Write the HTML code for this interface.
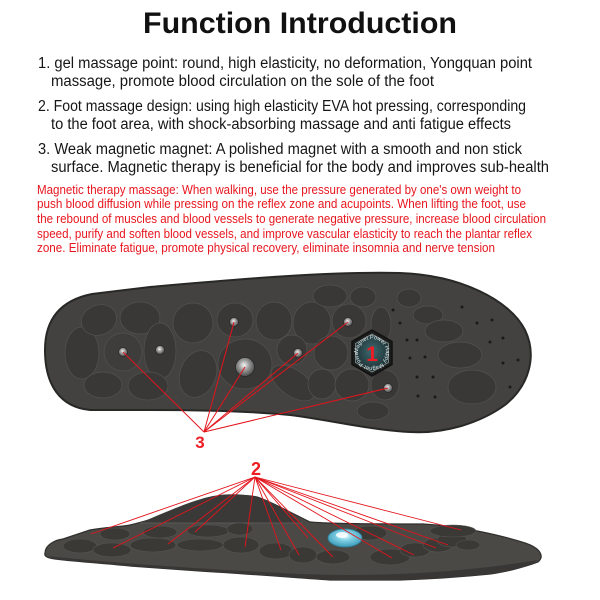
<!DOCTYPE html>
<html>
<head>
<meta charset="utf-8">
<style>
  html,body{margin:0;padding:0;background:#fff;}
  svg{display:block;}
</style>
</head>
<body>
<svg width="600" height="600" viewBox="0 0 600 600" xmlns="http://www.w3.org/2000/svg">
  <defs>
    <radialGradient id="stud" cx="45%" cy="40%" r="60%">
      <stop offset="0" stop-color="#f4f4f4"/>
      <stop offset="0.45" stop-color="#9a9a9a"/>
      <stop offset="1" stop-color="#4a4a4a"/>
    </radialGradient>
    <radialGradient id="gem" cx="50%" cy="40%" r="60%">
      <stop offset="0" stop-color="#e8fbff"/>
      <stop offset="0.4" stop-color="#7fd0e4"/>
      <stop offset="1" stop-color="#3c9ab8"/>
    </radialGradient>
    <radialGradient id="hexg" cx="50%" cy="45%" r="60%">
      <stop offset="0" stop-color="#3e6a70"/>
      <stop offset="1" stop-color="#1a2a2d"/>
    </radialGradient>
    <path id="circ" d="M 358,353 A 14,14 0 1,1 386,353 A 14,14 0 1,1 358,353"/>
  </defs>

  <rect width="600" height="600" fill="#fff"/>

  <!-- Title -->
  <text x="143" y="33" font-family="Liberation Sans, sans-serif" font-weight="bold" font-size="30" fill="#111" textLength="314" lengthAdjust="spacingAndGlyphs">Function Introduction</text>

  <!-- Numbered list -->
  <g font-family="Liberation Sans, sans-serif" font-size="15.5" fill="#161616">
    <text x="38" y="68" textLength="494" lengthAdjust="spacingAndGlyphs">1. gel massage point: round, high elasticity, no deformation, Yongquan point</text>
    <text x="51" y="86" textLength="383" lengthAdjust="spacingAndGlyphs">massage, promote blood circulation on the sole of the foot</text>
    <text x="38" y="111" textLength="488" lengthAdjust="spacingAndGlyphs">2. Foot massage design: using high elasticity EVA hot pressing, corresponding</text>
    <text x="51" y="129" textLength="460" lengthAdjust="spacingAndGlyphs">to the foot area, with shock-absorbing massage and anti fatigue effects</text>
    <text x="38" y="154" textLength="484" lengthAdjust="spacingAndGlyphs">3. Weak magnetic magnet: A polished magnet with a smooth and non stick</text>
    <text x="51" y="172" textLength="498" lengthAdjust="spacingAndGlyphs">surface. Magnetic therapy is beneficial for the body and improves sub-health</text>
  </g>

  <!-- Red paragraph -->
  <g font-family="Liberation Sans, sans-serif" font-size="12.5" fill="#e8161e">
    <text x="37" y="194" textLength="484" lengthAdjust="spacingAndGlyphs">Magnetic therapy massage: When walking, use the pressure generated by one's own weight to</text>
    <text x="37" y="208" textLength="489" lengthAdjust="spacingAndGlyphs">push blood diffusion while pressing on the reflex zone and acupoints. When lifting the foot, use</text>
    <text x="37" y="223" textLength="509" lengthAdjust="spacingAndGlyphs">the rebound of muscles and blood vessels to generate negative pressure, increase blood circulation</text>
    <text x="37" y="238" textLength="495" lengthAdjust="spacingAndGlyphs">speed, purify and soften blood vessels, and improve vascular elasticity to reach the plantar reflex</text>
    <text x="37" y="252" textLength="458" lengthAdjust="spacingAndGlyphs">zone. Eliminate fatigue, promote physical recovery, eliminate insomnia and nerve tension</text>
  </g>

  <!-- ===== TOP INSOLE ===== -->
  <path d="M 45,350 C 45,318 62,300 92,294 L 150,287 C 230,280 330,271 400,273 C 460,275 510,300 525,330 C 537,355 530,385 505,405 C 480,423 445,434 410,432 C 370,430 330,420 290,415 C 250,411 200,410 150,410 L 90,410 C 60,407 45,385 45,350 Z"
        fill="#434240" stroke="#282827" stroke-width="2"/>
  <g fill="#393836" stroke="#53524f" stroke-width="0.7">
    <!-- heel flower -->
    <ellipse cx="82" cy="353" rx="17" ry="26"/>
    <ellipse cx="99" cy="320" rx="18" ry="15" transform="rotate(-20 99 320)"/>
    <ellipse cx="140" cy="318" rx="20" ry="16"/>
    <ellipse cx="160" cy="351" rx="16" ry="28"/>
    <ellipse cx="148" cy="386" rx="20" ry="14"/>
    <ellipse cx="103" cy="385" rx="19" ry="13"/>
    <circle cx="123" cy="352" r="19" fill="#3e3d3b"/>
    <!-- middle -->
    <ellipse cx="193" cy="323" rx="20" ry="20"/>
    <ellipse cx="235" cy="320" rx="18" ry="17"/>
    <ellipse cx="274" cy="321" rx="18" ry="19"/>
    <ellipse cx="312" cy="323" rx="19" ry="21"/>
    <ellipse cx="349" cy="321" rx="17" ry="17"/>
    <ellipse cx="330" cy="296" rx="17" ry="11"/>
    <ellipse cx="363" cy="297" rx="13" ry="10"/>
    <ellipse cx="381" cy="325" rx="10" ry="18"/>
    <ellipse cx="245" cy="364" rx="27" ry="25"/>
    <ellipse cx="198" cy="374" rx="18" ry="24" transform="rotate(20 198 374)"/>
    <ellipse cx="292" cy="350" rx="15" ry="15"/>
    <ellipse cx="293" cy="383" rx="25" ry="13" transform="rotate(35 293 383)"/>
    <ellipse cx="322" cy="384" rx="14" ry="15"/>
    <ellipse cx="331" cy="353" rx="17" ry="17"/>
    <ellipse cx="352" cy="385" rx="17" ry="16"/>
    <ellipse cx="385" cy="385" rx="14" ry="15"/>
    <ellipse cx="373" cy="411" rx="16" ry="9"/>
    <!-- toes -->
    <ellipse cx="409" cy="298" rx="12" ry="9"/>
    <ellipse cx="428" cy="315" rx="15" ry="9"/>
    <ellipse cx="444" cy="331" rx="19" ry="11"/>
    <ellipse cx="460" cy="355" rx="22" ry="13"/>
    <ellipse cx="472" cy="387" rx="24" ry="17"/>
  </g>
  <!-- holes -->
  <g fill="#1a1a19">
    <circle cx="393" cy="310" r="1.5"/><circle cx="400" cy="323" r="1.5"/>
    <circle cx="407" cy="340" r="1.5"/><circle cx="417" cy="340" r="1.5"/>
    <circle cx="410" cy="358" r="1.5"/><circle cx="425" cy="357" r="1.5"/>
    <circle cx="417" cy="377" r="1.5"/><circle cx="433" cy="377" r="1.5"/>
    <circle cx="418" cy="396" r="1.5"/><circle cx="435" cy="397" r="1.5"/>
    <circle cx="462" cy="307" r="1.5"/><circle cx="477" cy="323" r="1.5"/>
    <circle cx="492" cy="320" r="1.5"/><circle cx="490" cy="342" r="1.5"/>
    <circle cx="503" cy="338" r="1.5"/><circle cx="503" cy="363" r="1.5"/>
    <circle cx="518" cy="360" r="1.5"/><circle cx="510" cy="387" r="1.5"/>
  </g>
  <!-- studs -->
  <g stroke="#2a2a2a" stroke-width="0.8" fill="url(#stud)">
    <circle cx="123" cy="352" r="4.5"/>
    <circle cx="160" cy="350" r="4.5"/>
    <circle cx="234" cy="322" r="4.5"/>
    <circle cx="298" cy="353" r="4.5"/>
    <circle cx="348" cy="322" r="4.5"/>
    <circle cx="388" cy="388" r="4.5"/>
    <circle cx="245" cy="367" r="9.5"/>
  </g>
  <!-- magnet hex -->
  <polygon points="372,330 392,341.5 392,364.5 372,376 352,364.5 352,341.5" fill="#1b1d1d" stroke="#111" stroke-width="1.5"/>
  <polygon points="372,334 388.5,343.5 388.5,362.5 372,372 355.5,362.5 355.5,343.5" fill="url(#hexg)" stroke="#8a8f90" stroke-width="0.8"/>
  <text font-family="Liberation Sans, sans-serif" font-size="5.5" fill="#e6f2f4"><textPath href="#circ">Magnet Power Happy Magnet Power</textPath></text>
  <text x="372" y="361" text-anchor="middle" font-family="Liberation Sans, sans-serif" font-weight="bold" font-size="21" fill="#ee1c24">1</text>

  <!-- lines to 3 -->
  <g stroke="#e3141c" stroke-width="1" fill="none">
    <line x1="204" y1="432" x2="123" y2="352"/>
    <line x1="204" y1="432" x2="234" y2="322"/>
    <line x1="204" y1="432" x2="245" y2="367"/>
    <line x1="204" y1="432" x2="298" y2="353"/>
    <line x1="204" y1="432" x2="348" y2="322"/>
    <line x1="204" y1="432" x2="388" y2="388"/>
  </g>
  <text x="200" y="448" text-anchor="middle" font-family="Liberation Sans, sans-serif" font-weight="bold" font-size="17" fill="#ee1c24">3</text>

  <!-- ===== BOTTOM INSOLE ===== -->
  <path d="M 45,553 C 45,545 55,540 63,539 L 90,530 C 105,527 120,527 130,525 C 150,520 165,515 175,511 L 205,500 C 220,495 245,494 257,497 C 272,502 287,511 300,517 L 310,522 C 330,524 400,524 423,524 C 460,526 500,535 525,543 C 540,548 545,556 538,562 C 525,567 505,572 490,574 C 460,577 430,579 400,580 L 330,580 C 300,578 250,574 200,571 L 130,566 C 100,563 70,561 55,559 C 47,558 44,556 45,553 Z"
        fill="#4a4946" stroke="#302f2d" stroke-width="1.2"/>
  <!-- hump far wall -->
  <path d="M 140,523 C 168,511 193,500 213,496 C 235,492 257,495 272,503 C 285,510 293,517 302,523 Z" fill="#3a3937"/>
  <path d="M 140,523 L 302,523" stroke="#5a5956" stroke-width="1"/>
  <!-- side band -->
  <path d="M 48,556 C 100,562 200,569 300,574 C 380,577 460,573 538,560 C 530,566 510,572 490,574 C 460,577 430,579 400,580 L 330,580 C 300,578 250,574 200,571 L 130,566 C 100,563 70,561 55,559 Z" fill="#383735"/>
  <g fill="#3a3936" stroke="#565552" stroke-width="0.6">
    <ellipse cx="80" cy="546" rx="17" ry="7"/>
    <ellipse cx="112" cy="550" rx="19" ry="7"/>
    <ellipse cx="115" cy="534" rx="15" ry="6"/>
    <ellipse cx="153" cy="545" rx="23" ry="7"/>
    <ellipse cx="160" cy="532" rx="17" ry="6"/>
    <ellipse cx="200" cy="545" rx="23" ry="6"/>
    <ellipse cx="208" cy="531" rx="21" ry="6"/>
    <ellipse cx="241" cy="545" rx="18" ry="8"/>
    <ellipse cx="240" cy="529" rx="13" ry="6"/>
    <ellipse cx="276" cy="551" rx="17" ry="8"/>
    <ellipse cx="303" cy="555" rx="14" ry="8"/>
    <ellipse cx="333" cy="557" rx="17" ry="7"/>
    <ellipse cx="370" cy="533" rx="17" ry="7"/>
    <ellipse cx="390" cy="557" rx="20" ry="8"/>
    <ellipse cx="415" cy="550" rx="15" ry="7"/>
    <ellipse cx="438" cy="545" rx="15" ry="7"/>
    <ellipse cx="452" cy="540" rx="15" ry="7"/>
    <ellipse cx="453" cy="531" rx="23" ry="6"/>
    <ellipse cx="468" cy="545" rx="12" ry="5"/>
  </g>
  <!-- gem -->
  <ellipse cx="345" cy="538" rx="17" ry="9" fill="url(#gem)" stroke="#2c7f98" stroke-width="0.8"/>
  <ellipse cx="342" cy="535" rx="6" ry="3" fill="#ffffff" opacity="0.85"/>

  <!-- lines to 2 -->
  <g stroke="#e3141c" stroke-width="0.9" fill="none">
    <line x1="255" y1="477" x2="91" y2="534"/>
    <line x1="255" y1="477" x2="113" y2="548"/>
    <line x1="255" y1="477" x2="168" y2="544"/>
    <line x1="255" y1="477" x2="195" y2="532"/>
    <line x1="255" y1="477" x2="245" y2="547"/>
    <line x1="255" y1="477" x2="281" y2="550"/>
    <line x1="255" y1="477" x2="299" y2="555"/>
    <line x1="255" y1="477" x2="308" y2="538"/>
    <line x1="255" y1="477" x2="333" y2="557"/>
    <line x1="255" y1="477" x2="392" y2="558"/>
    <line x1="255" y1="477" x2="414" y2="555"/>
    <line x1="255" y1="477" x2="436" y2="548"/>
    <line x1="255" y1="477" x2="448" y2="545"/>
    <line x1="255" y1="477" x2="461" y2="530"/>
  </g>
  <text x="256" y="475" text-anchor="middle" font-family="Liberation Sans, sans-serif" font-weight="bold" font-size="18" fill="#ee1c24">2</text>
</svg>
</body>
</html>
